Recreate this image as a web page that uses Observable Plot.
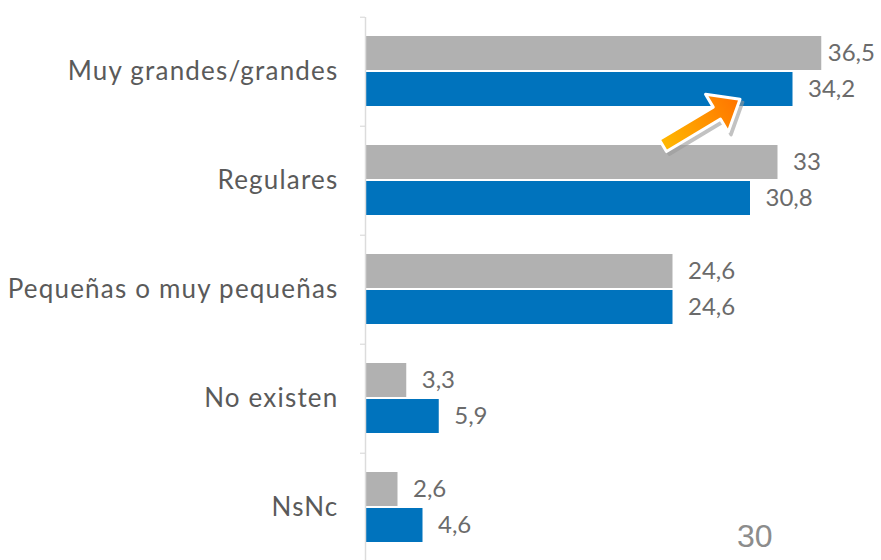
<!DOCTYPE html>
<html><head><meta charset="utf-8">
<script src="https://cdn.jsdelivr.net/npm/d3@7"></script>
<script src="https://cdn.jsdelivr.net/npm/@observablehq/plot@0.6"></script>
<style>
html,body{margin:0;padding:0;background:#fff;overflow:hidden;width:881px;height:560px}
#chart svg{display:block}
#chart g[aria-label="fy-axis tick label"] text{letter-spacing:1.2px}
</style></head><body><div id="chart"></div>
<script>
const categories = ["Muy grandes/grandes", "Regulares", "Pequeñas o muy pequeñas", "No existen", "NsNc"];
const series = ["Anterior", "Actual"];
const valuesAnterior = [36.5, 33, 24.6, 3.3, 2.6];
const valuesActual = [34.2, 30.8, 24.6, 5.9, 4.6];
const pageNumber = "30";

const data = categories.flatMap((c, i) => [
  {cat: c, serie: series[0], value: valuesAnterior[i]},
  {cat: c, serie: series[1], value: valuesActual[i]}
]);
const maxVal = d3.max(data, d => d.value);
const fmt = v => String(v).replace(".", ",");
const H = 563, MT = 15, MB = 0;
const step = (H - MT - MB) / categories.length;

const plot = Plot.plot({
  width: 881, height: H, marginLeft: 365, marginRight: 16, marginTop: MT, marginBottom: MB,
  style: {fontFamily: "Lato, sans-serif", background: "transparent"},
  x: {domain: [0, 40], axis: null},
  y: {domain: series, paddingInner: 0.05, paddingOuter: 0.525, axis: null},
  fy: {domain: categories, padding: 0, label: null},
  color: {domain: series, range: ["#b1b1b1", "#0073bd"]},
  marks: [
    Plot.barX(data, {fy: "cat", y: "serie", x: "value", fill: "serie"}),
    Plot.text(data, {filter: d => d.value < maxVal, fy: "cat", y: "serie", x: "value", text: d => fmt(d.value), textAnchor: "start", dx: 15, fill: "#6b6b6b", fontSize: 24}),
    Plot.text(data, {filter: d => d.value === maxVal, fy: "cat", y: "serie", x: "value", text: d => fmt(d.value), textAnchor: "start", dx: 6, fill: "#6b6b6b", fontSize: 24}),
    Plot.ruleX([0], {stroke: "#dcdcdc", strokeWidth: 1.5}),
    Plot.axisFy({anchor: "left", tickSize: 0, tickPadding: 27, fontSize: 26, fill: "#5a5a5a", label: null}),
    Plot.axisFy({anchor: "left", tickSize: 5, tickFormat: () => "", dy: -step / 2, stroke: "#d4d4d4", label: null})
  ]
});
document.getElementById("chart").append(plot);

// annotation arrow, positioned from the plot's scales
const sx = plot.scale("x"), sy = plot.scale("y"), sfy = plot.scale("fy");
const tipX = sx.apply(30.0);
const tipY = sfy.apply(categories[0]) + sy.apply(series[1]) - MT + sy.bandwidth * 0.8;
const svg = d3.select(plot);
const defs = svg.append("defs");
const grad = defs.append("linearGradient").attr("id", "ag").attr("x1", "0").attr("x2", "1").attr("y1", "0").attr("y2", "0");
grad.append("stop").attr("offset", "0%").attr("stop-color", "#ffb800");
grad.append("stop").attr("offset", "100%").attr("stop-color", "#ff7300");
const pts = [[-90, -7], [-27, -7], [-27, -22], [0, 0], [-27, 22], [-27, 7], [-90, 7]];
const g = svg.append("g").attr("transform", `translate(${tipX},${tipY}) rotate(-31)`);
g.append("polygon").attr("points", pts.map(p => p.join(",")).join(" "))
  .attr("fill", "#9a9a9a").attr("opacity", 0.6).attr("transform", "translate(1,4)").attr("stroke", "#9a9a9a").attr("stroke-width", 3).attr("stroke-linejoin", "round");
g.append("polygon").attr("points", pts.map(p => p.join(",")).join(" "))
  .attr("fill", "url(#ag)").attr("stroke", "#fff").attr("stroke-width", 3).attr("stroke-linejoin", "round");

svg.append("text").attr("x", 737).attr("y", 547).attr("text-anchor", "start")
  .attr("font-family", "'Liberation Sans', Arial, sans-serif")
  .attr("font-size", 32).attr("fill", "#8c8c8c").text(pageNumber);
</script></body></html>
